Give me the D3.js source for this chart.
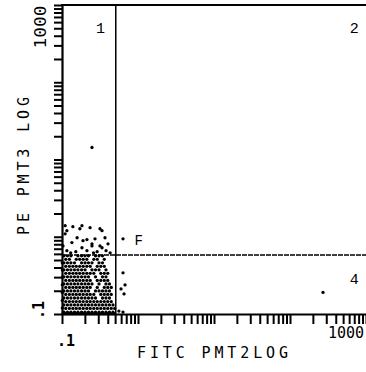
<!DOCTYPE html>
<html><head><meta charset="utf-8">
<script src="https://cdn.jsdelivr.net/npm/d3@7"></script>
<style>body{margin:0;background:#fff}svg{display:block}</style>
</head><body><svg id="c" width="366" height="372"></svg>
<script>
// ---- data ----
const fitcDomain = [0.1, 1000];
const peDomain = [0.1, 1000];
const xLabelValues = [0.1, 1000];
const xLabelTexts = [".1", "1000"];
const yLabelValues = [0.1, 1000];
const yLabelTexts = [".1", "1000"];
const xTitle = "FITC PMT2LOG";
const yTitle = "PE PMT3 LOG";
const gateFitc = 0.51;
const gatePe = 0.58;
const quadrantNames = ["1", "2", "4"];
const quadrantFitc = [0.32, 700, 700];
const quadrantPe = [500, 500, 0.28];
const markerName = "F";
const markerFitc = 0.9;
const markerPe = 0.93;

// dense population (quadrant 3): PE level of each row, FITC values in that row
const rowPe = [0.101, 0.106, 0.118, 0.131, 0.145, 0.161, 0.179, 0.199, 0.221, 0.245,
               0.272, 0.303, 0.336, 0.373, 0.414, 0.460, 0.510, 0.567];
const rowFitc = [
 [0.103,0.109,0.115,0.122,0.129,0.137,0.146,0.156,0.167,0.178,0.19,0.203,0.217,0.232,0.248,0.265,0.283,0.303,0.324,0.347,0.371,0.397,0.425,0.455,0.487],
 [0.106,0.118,0.131,0.146,0.162,0.181,0.201,0.223,0.248,0.276,0.307,0.341,0.379,0.421,0.469],
 [0.112,0.125,0.139,0.154,0.171,0.190,0.212,0.235,0.262,0.291,0.324,0.360,0.400,0.445,0.494],
 [0.106,0.118,0.131,0.146,0.162,0.181,0.201,0.223,0.248,0.276,0.307,0.341,0.379,0.421,0.469],
 [0.112,0.125,0.139,0.154,0.171,0.190,0.212,0.235,0.262,0.291,0.324,0.360,0.400,0.445],
 [0.106,0.118,0.131,0.146,0.162,0.181,0.201,0.223,0.248,0.276,0.341,0.379,0.421],
 [0.112,0.125,0.139,0.154,0.171,0.190,0.212,0.235,0.262,0.324,0.360,0.400,0.445],
 [0.106,0.118,0.131,0.146,0.162,0.181,0.201,0.223,0.276,0.307,0.341,0.379,0.421],
 [0.112,0.125,0.139,0.154,0.171,0.190,0.212,0.235,0.291,0.360,0.400,0.445],
 [0.106,0.118,0.131,0.146,0.162,0.181,0.201,0.223,0.248,0.307,0.379,0.421],
 [0.112,0.125,0.139,0.154,0.171,0.190,0.212,0.235,0.291,0.324,0.360,0.400],
 [0.106,0.118,0.131,0.146,0.162,0.181,0.201,0.223,0.276,0.341,0.379],
 [0.112,0.125,0.139,0.154,0.171,0.190,0.212,0.235,0.262,0.324,0.360,0.400],
 [0.106,0.118,0.131,0.146,0.162,0.181,0.201,0.248,0.276,0.307,0.379],
 [0.112,0.125,0.139,0.154,0.171,0.190,0.212,0.235,0.291,0.324,0.360],
 [0.106,0.118,0.131,0.146,0.181,0.201,0.223,0.248,0.307,0.341],
 [0.112,0.125,0.154,0.171,0.190,0.212,0.262,0.291,0.360],
 [0.106,0.118,0.131,0.162,0.181,0.201,0.223,0.276,0.307,0.341]
];
// scattered events [FITC, PE]
const sparseEvents = [
 [0.101,0.12],[0.101,0.15],[0.101,0.19],[0.101,0.24],[0.101,0.30],[0.101,0.37],[0.101,0.46],
 [0.110,1.39],[0.139,1.35],[0.183,1.39],[0.234,1.31],[0.316,1.27],
 [0.116,1.20],[0.172,1.27],[0.336,1.20],
 [0.110,1.09],[0.158,0.97],[0.213,0.92],[0.272,0.94],[0.368,0.97],
 [0.135,0.84],[0.189,0.89],[0.248,0.81],[0.316,0.76],[0.403,0.81],
 [0.103,0.76],[0.183,0.72],[0.248,0.76],[0.336,0.72],
 [0.116,0.66],[0.152,0.64],[0.213,0.66],[0.290,0.64],[0.380,0.66],[0.430,0.62],
 [0.130,0.62],[0.260,0.62],
 [0.248,14.3],
 [0.635,0.94],
 [0.635,0.341],[0.675,0.238],[0.598,0.211],[0.655,0.182],[0.560,0.109],[0.635,0.106],
 [272,0.19]
];

// ---- chart ----
const svg = d3.select("#c");
const x = d3.scaleLog().domain(fitcDomain).range([62, 366]);
const y = d3.scaleLog().domain(peDomain).range([314, 5]);
const mono = "'DejaVu Sans Mono', monospace";
const thin = "'Liberation Mono', 'Courier New', monospace";

const events = [];
rowPe.forEach((pe, i) => rowFitc[i].forEach(f => events.push([f, pe])));
sparseEvents.forEach(e => events.push(e));

svg.append("g").selectAll("circle").data(events).join("circle")
  .attr("cx", d => x(d[0])).attr("cy", d => y(d[1])).attr("r", 1.65).attr("fill", "#000");

// axes
const xAxis = svg.append("g").attr("transform", `translate(0,${y(0.1)})`)
  .call(d3.axisBottom(x).tickValues(x.ticks()).tickSize(10).tickSizeOuter(0).tickFormat(""));
const yAxis = svg.append("g").attr("transform", `translate(${x(0.1)},0)`)
  .call(d3.axisLeft(y).tickValues(y.ticks()).tickSize(8).tickSizeOuter(0).tickFormat(""));
[xAxis, yAxis].forEach(a => {
  a.select(".domain").attr("stroke", "#000").attr("stroke-width", 2.2);
  a.selectAll(".tick line").attr("stroke", "#000").attr("stroke-width", 2);
});

// top border
svg.append("line").attr("x1", x(0.1) - 1).attr("x2", x(1000)).attr("y1", y(1000)).attr("y2", y(1000))
  .attr("stroke", "#000").attr("stroke-width", 2.2);
// gates
svg.append("line").attr("x1", x(gateFitc)).attr("x2", x(gateFitc)).attr("y1", y(1000)).attr("y2", y(0.1))
  .attr("stroke", "#000").attr("stroke-width", 1.5);
svg.append("line").attr("x1", x(0.1)).attr("x2", x(1000)).attr("y1", y(gatePe)).attr("y2", y(gatePe))
  .attr("stroke", "#000").attr("stroke-width", 1.5).attr("stroke-dasharray", "5,1");

// tick labels
svg.append("text").attr("x", x(xLabelValues[0]) + 4).attr("y", 346).attr("text-anchor", "middle")
  .attr("font-family", mono).attr("font-size", 15).attr("font-weight", "bold").text(xLabelTexts[0]);
svg.append("text").attr("x", x(xLabelValues[1]) - 2).attr("y", 338).attr("text-anchor", "end")
  .attr("font-family", mono).attr("font-size", 15).text(xLabelTexts[1]);
svg.append("text").attr("transform", `translate(44,${y(yLabelValues[0]) - 4}) rotate(-90)`)
  .attr("text-anchor", "middle").attr("font-family", mono).attr("font-size", 15).attr("font-weight", "bold")
  .text(yLabelTexts[0]);
svg.append("text").attr("transform", `translate(46,${y(yLabelValues[1]) + 22}) rotate(-90)`)
  .attr("text-anchor", "middle").attr("font-family", mono).attr("font-size", 15)
  .attr("textLength", 43).attr("lengthAdjust", "spacingAndGlyphs").text(yLabelTexts[1]);

// titles
svg.append("text").attr("x", 137).attr("y", 358).attr("font-family", mono).attr("font-size", 15)
  .attr("textLength", 151).attr("lengthAdjust", "spacing").text(xTitle);
svg.append("text").attr("transform", `translate(29,235) rotate(-90)`).attr("font-family", mono)
  .attr("font-size", 15).attr("textLength", 138).attr("lengthAdjust", "spacing").text(yTitle);

// quadrant labels
quadrantNames.forEach((q, i) => {
  svg.append("text").attr("x", x(quadrantFitc[i])).attr("y", y(quadrantPe[i]) + 5)
    .attr("text-anchor", "middle").attr("font-family", thin).attr("font-size", 15).text(q);
});
svg.append("text").attr("x", x(markerFitc)).attr("y", y(markerPe) + 6)
  .attr("font-family", thin).attr("font-size", 14).text(markerName);
</script></body></html>
